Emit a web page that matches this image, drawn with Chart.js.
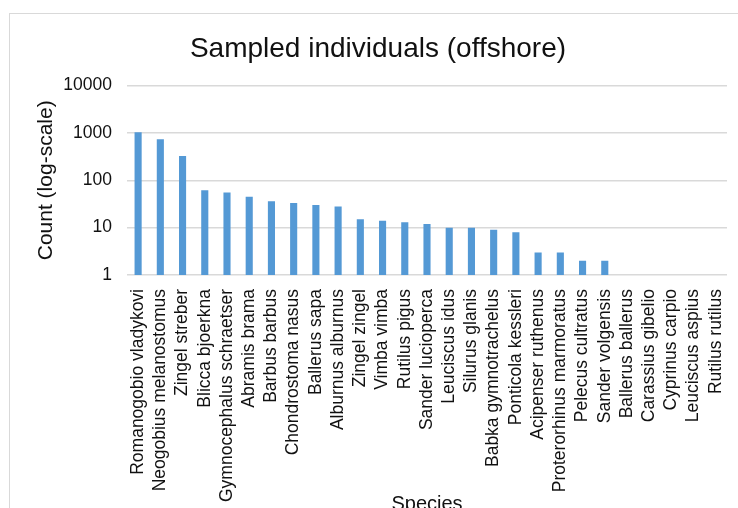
<!DOCTYPE html>
<html>
<head>
<meta charset="utf-8">
<script src="https://cdn.jsdelivr.net/npm/chart.js@4/dist/chart.umd.min.js"></script>
<style>
  html, body { margin: 0; padding: 0; background: #fff; overflow: hidden; }
  #wrap { width: 738px; height: 508px; overflow: hidden; position: relative; }
</style>
</head>
<body>
<div id="wrap"><canvas id="speciesChart" width="738" height="530"></canvas></div>
<script>
// species and counts (offshore samples)
const species = [
    'Romanogobio vladykovi', 'Neogobius melanostomus', 'Zingel streber', 'Blicca bjoerkna',
    'Gymnocephalus schraetser', 'Abramis brama', 'Barbus barbus', 'Chondrostoma nasus',
    'Ballerus sapa', 'Alburnus alburnus', 'Zingel zingel', 'Vimba vimba', 'Rutilus pigus',
    'Sander lucioperca', 'Leuciscus idus', 'Silurus glanis', 'Babka gymnotrachelus',
    'Ponticola kessleri', 'Acipenser ruthenus', 'Proterorhinus marmoratus', 'Pelecus cultratus',
    'Sander volgensis', 'Ballerus ballerus', 'Carassius gibelio', 'Cyprinus carpio',
    'Leuciscus aspius', 'Rutilus rutilus'
];
const counts = [1040, 740, 325, 62, 55, 45, 36, 33, 30, 28, 15, 14, 13, 12, 10, 10, 9, 8, 3, 3, 2, 2, 1, 1, 1, 1, 1];
const yTicks = [1, 10, 100, 1000, 10000];

const fontFamily = '"Liberation Sans", Arial, sans-serif';
const textColor = '#111';

// light frame around the chart, like the spreadsheet chart border
const frame = {
    id: 'frame',
    beforeDraw(chart) {
        const ctx = chart.ctx;
        ctx.save();
        ctx.strokeStyle = '#d9d9d9';
        ctx.lineWidth = 1;
        ctx.strokeRect(9.5, 13.5, 900, 700);
        ctx.restore();
    }
};

const ctx = document.getElementById('speciesChart').getContext('2d');
const speciesChart = new Chart(ctx, {
    type: 'bar',
    data: {
        labels: species,
        datasets: [{
            label: 'Count',
            data: counts,
            backgroundColor: '#5499d5',
            borderWidth: 0,
            barPercentage: 0.32,
            categoryPercentage: 1
        }]
    },
    options: {
        responsive: false,
        devicePixelRatio: 1,
        animation: false,
        layout: { padding: { left: 29, right: 11, top: 0, bottom: 0 } },
        plugins: {
            legend: { display: false },
            tooltip: { enabled: false },
            title: {
                display: true,
                text: 'Sampled individuals (offshore)',
                color: textColor,
                font: { family: fontFamily, size: 28, weight: 'normal' },
                padding: { top: 32, bottom: 20 }
            }
        },
        scales: {
            x: {
                grid: { display: false, drawTicks: false },
                border: { display: false },
                ticks: {
                    autoSkip: false,
                    minRotation: 90,
                    maxRotation: 90,
                    padding: 14,
                    color: textColor,
                    font: { family: fontFamily, size: 17.5 }
                },
                title: {
                    display: true,
                    text: 'Species',
                    color: textColor,
                    font: { family: fontFamily, size: 20 },
                    padding: { top: 0, bottom: 14 }
                },
                afterFit(scale) {
                    scale.height = 255;
                    scale.paddingLeft = 0;
                    scale.paddingRight = 0;
                }
            },
            y: {
                type: 'logarithmic',
                min: 1,
                max: 10000,
                grid: { color: '#d9d9d9', lineWidth: 1.5, drawTicks: false },
                border: { display: false },
                ticks: {
                    padding: 15,
                    color: textColor,
                    font: { family: fontFamily, size: 17.5 },
                    callback: (v) => String(v)
                },
                afterBuildTicks(scale) {
                    scale.ticks = yTicks.map(v => ({ value: v }));
                },
                title: {
                    display: true,
                    text: 'Count (log-scale)',
                    color: textColor,
                    font: { family: fontFamily, size: 21 },
                    padding: { top: 5, bottom: 0 }
                },
                afterFit(scale) { scale.width = 98; }
            }
        }
    },
    plugins: [frame]
});
</script>
</body>
</html>
